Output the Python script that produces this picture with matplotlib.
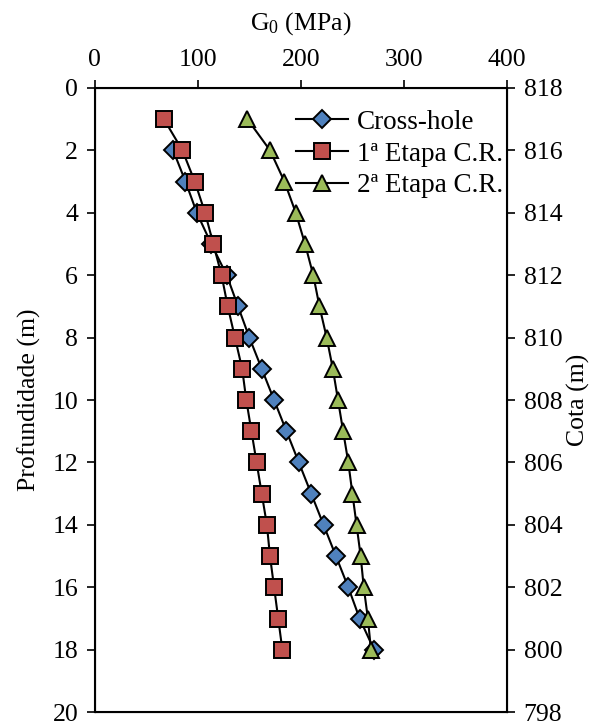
import matplotlib
matplotlib.use("Agg")
import matplotlib.pyplot as plt

plt.rcParams["font.family"] = ["Liberation Serif", "DejaVu Serif"]
plt.rcParams["mathtext.fontset"] = "custom"
plt.rcParams["mathtext.rm"] = "Liberation Serif"
plt.rcParams["mathtext.it"] = "Liberation Serif:italic"
plt.rcParams["font.size"] = 18.5

# ===== 数据 =====
depth = [1, 2, 3, 4, 5, 6, 7, 8, 9, 10, 11, 12, 13, 14, 15, 16, 17, 18]
cross_hole = [None, 76, 88, 99, 113, 128, 139, 150, 162, 174, 186, 198, 210, 222, 234, 246, 257, 271]
etapa1 = [67, 85, 97, 107, 115, 123, 129, 136, 143, 147, 152, 157, 162, 167, 170, 174, 178, 182]
etapa2 = [148, 170, 184, 195, 204, 212, 218, 225, 231, 236, 241, 246, 250, 254, 258, 261, 265, 268]

# cross-hole starts at 2 m
ch_depth = [d for d, v in zip(depth, cross_hole) if v is not None]
ch_vals = [v for v in cross_hole if v is not None]

fig = plt.figure(figsize=(6, 7.26), dpi=100)
ax = fig.add_axes([0.158, 0.019, 0.687, 0.86])

style = dict(color="black", lw=1.5, markeredgecolor="black", markeredgewidth=1.4)
ax.plot(ch_vals, ch_depth, marker="D", ms=9, markerfacecolor="#4F81BD", label="Cross-hole", **style)
ax.plot(etapa1, depth, marker="s", ms=11, markerfacecolor="#C0504D", label="1ª Etapa C.R.", **style)
ax.plot(etapa2, depth, marker="^", ms=11, markerfacecolor="#9BBB59", label="2ª Etapa C.R.", **style)

ax.set_xlim(0, 400)
ax.set_ylim(20, 0)
ax.set_xticks([0, 100, 200, 300, 400])
ax.set_yticks(range(0, 21, 2))
ax.xaxis.set_ticks_position("top")
ax.xaxis.set_label_position("top")
ax.set_xlabel(r"G$_\mathrm{0}$ (MPa)", labelpad=14)
ax.set_ylabel("Profundidade (m)", labelpad=8)
ax.tick_params(direction="out", length=6, width=1.2, pad=6)
for s in ax.spines.values():
    s.set_linewidth(1.5)

ax2 = ax.twinx()
ax2.set_ylim(798, 818)
ax2.set_yticks(range(798, 819, 2))
ax2.set_ylabel("Cota (m)", labelpad=3)
ax2.tick_params(direction="out", length=6, width=1.2, pad=6)

ax.legend(loc="upper left", bbox_to_anchor=(0.461, 0.982), frameon=False,
          handlelength=1.95, borderaxespad=0, labelspacing=0.25, handletextpad=0.3,
          prop={"size": 19.5})

fig.savefig("out.png")
